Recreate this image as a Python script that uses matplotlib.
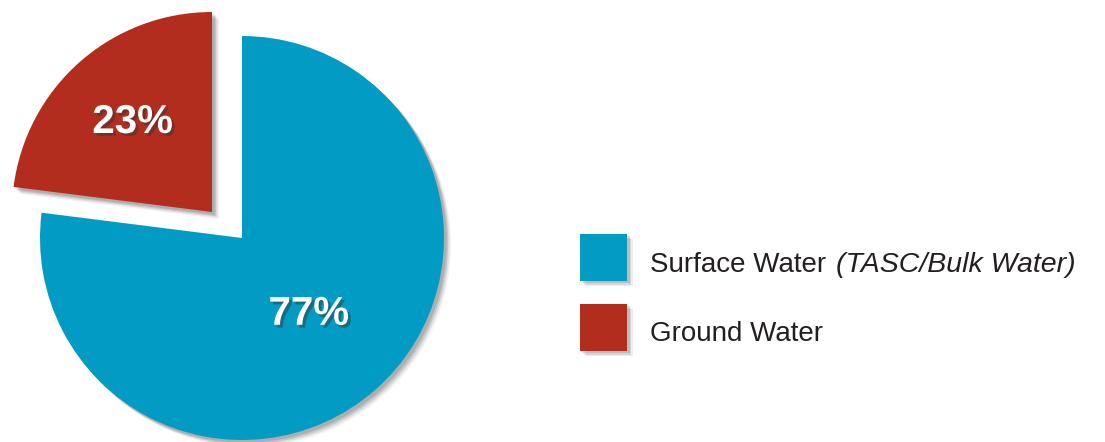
import matplotlib.pyplot as plt
import matplotlib.patheffects as pe
import numpy as np

sources = ['Surface Water', 'Ground Water']
shares = [77, 23]
colors = ['#019bc3', '#b22d1e']
legend_extra = ['(TASC/Bulk Water)', '']

plt.rcParams['font.family'] = ['Liberation Sans', 'DejaVu Sans']

fig = plt.figure(figsize=(11.05, 4.42), dpi=100)
ax = fig.add_axes([0, 0, 1, 1])

# soft drop shadow: a few stacked offsets
shadow = [pe.SimplePatchShadow(offset=(d, -d), shadow_rgbFace='#555555', alpha=a)
          for d, a in [(5, 0.08), (4, 0.12), (3, 0.18), (2, 0.2)]] + [pe.Normal()]

center = (242, 204)
radius = 202
wedges, _ = ax.pie(shares, colors=colors, startangle=90, counterclock=False,
                   center=center, radius=radius, explode=[0, 40],
                   wedgeprops=dict(linewidth=0))
# the ground-water piece is pulled out a bit more to the left than its mid angle
wedges[1].set_center((center[0] - 30, center[1] + 26))
wedges[1].set_radius(200)
for w in wedges:
    w.set_path_effects(shadow)

ax.set_xlim(0, 1105)
ax.set_ylim(0, 442)
ax.axis('off')

# percentage labels placed along each wedge's mid angle
pct_dist = [0.5, 0.6]
txt_shadow = [pe.SimplePatchShadow(offset=(2, -2), shadow_rgbFace='#333333', alpha=0.45), pe.Normal()]
for w, val, d in zip(wedges, shares, pct_dist):
    th = np.deg2rad((w.theta1 + w.theta2) / 2)
    cx, cy = w.center
    ax.text(cx + d * w.r * np.cos(th), cy + d * w.r * np.sin(th), f'{val}%',
            color='white', fontsize=29, fontweight='bold', ha='center', va='center',
            path_effects=txt_shadow)

# legend drawn by hand
box_shadow = [pe.SimplePatchShadow(offset=(d, -d), shadow_rgbFace='#555555', alpha=a)
              for d, a in [(4, 0.1), (3, 0.15), (2, 0.2)]] + [pe.Normal()]
renderer = fig.canvas.get_renderer()
for i, (name, extra, c) in enumerate(zip(sources, legend_extra, colors)):
    yb = 185 - i * 70
    ax.add_patch(plt.Rectangle((580, yb - 23.5), 47, 47, color=c, lw=0, path_effects=box_shadow))
    base = 170 - i * 69
    t = ax.text(650, base, name, fontsize=20, color='#231f20', va='baseline')
    if extra:
        bb = t.get_window_extent(renderer)
        ax.text(bb.x1 + 10, base, extra, fontsize=20.5, color='#231f20', va='baseline',
                style='italic')

fig.savefig('out.png', dpi=100)
